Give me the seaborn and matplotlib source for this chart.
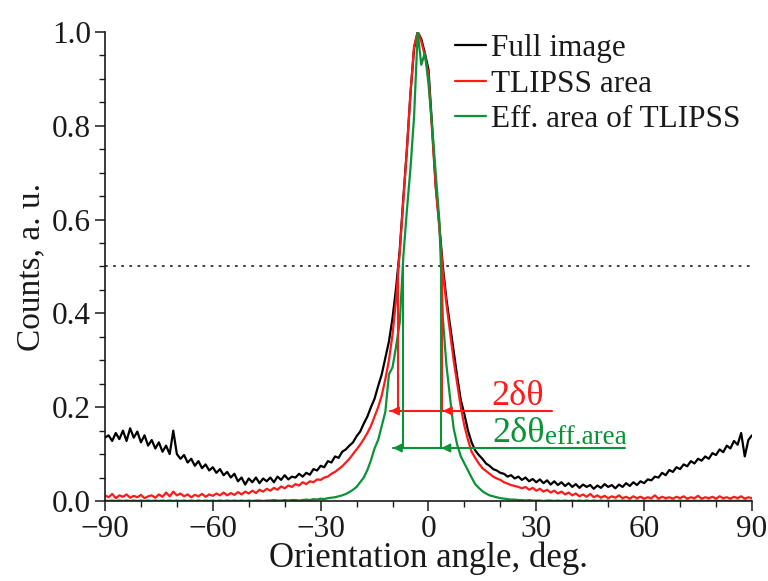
import matplotlib
matplotlib.use("Agg")
import matplotlib.pyplot as plt
from matplotlib.ticker import MultipleLocator, FormatStrFormatter
import numpy as np
import pandas as pd
import seaborn as sns

# ---------------- data ----------------
angles = list(range(-90, 91))  # orientation angle, deg

full_image = [
    0.135, 0.140, 0.128, 0.145, 0.132, 0.150, 0.128, 0.155, 0.135, 0.148,   # -90..-81
    0.125, 0.140, 0.118, 0.130, 0.112, 0.125, 0.105, 0.118, 0.100, 0.150,   # -80..-71
    0.100, 0.090, 0.098, 0.082, 0.090, 0.075, 0.085, 0.070, 0.078, 0.065,   # -70..-61
    0.072, 0.060, 0.068, 0.055, 0.062, 0.050, 0.058, 0.042, 0.050, 0.035,   # -60..-51
    0.048, 0.040, 0.050, 0.038, 0.048, 0.042, 0.050, 0.040, 0.052, 0.045,   # -50..-41
    0.055, 0.046, 0.052, 0.050, 0.058, 0.052, 0.060, 0.056, 0.068, 0.065,   # -40..-31
    0.075, 0.072, 0.085, 0.082, 0.095, 0.092, 0.105, 0.110, 0.118, 0.125,   # -30..-21
    0.138, 0.148, 0.165, 0.180, 0.200, 0.218, 0.245, 0.270, 0.305, 0.340,   # -20..-11
    0.390, 0.455, 0.535, 0.645, 0.750, 0.870, 0.965, 1.000, 0.985, 0.955,   # -10..-1
    0.920, 0.800, 0.675, 0.590, 0.500, 0.430, 0.375, 0.320, 0.265, 0.215,   # 0..9
    0.185, 0.150, 0.125, 0.108, 0.098, 0.090, 0.080, 0.075, 0.068, 0.065,   # 10..19
    0.060, 0.058, 0.052, 0.055, 0.048, 0.052, 0.045, 0.050, 0.042, 0.047,   # 20..29
    0.040, 0.046, 0.038, 0.044, 0.035, 0.042, 0.034, 0.040, 0.032, 0.038,   # 30..39
    0.030, 0.036, 0.028, 0.035, 0.030, 0.034, 0.026, 0.033, 0.028, 0.036,   # 40..49
    0.030, 0.034, 0.027, 0.035, 0.030, 0.038, 0.032, 0.040, 0.034, 0.042,   # 50..59
    0.038, 0.046, 0.044, 0.052, 0.050, 0.060, 0.055, 0.066, 0.062, 0.072,   # 60..69
    0.068, 0.078, 0.074, 0.085, 0.080, 0.090, 0.086, 0.095, 0.090, 0.102,   # 70..79
    0.098, 0.110, 0.104, 0.118, 0.112, 0.128, 0.120, 0.145, 0.095, 0.130,   # 80..89
    0.140,                                                                  # 90
]

tlipss_area = [
    0.012, 0.008, 0.015, 0.006, 0.012, 0.009, 0.014, 0.007, 0.011, 0.008,
    0.013, 0.006, 0.010, 0.012, 0.007, 0.014, 0.009, 0.018, 0.010, 0.020,
    0.012, 0.016, 0.010, 0.014, 0.008, 0.013, 0.010, 0.015, 0.009, 0.014,
    0.011, 0.016, 0.012, 0.018, 0.012, 0.017, 0.013, 0.019, 0.014, 0.020,
    0.016, 0.022, 0.017, 0.024, 0.020, 0.026, 0.022, 0.028, 0.024, 0.031,
    0.027, 0.033, 0.030, 0.036, 0.033, 0.040, 0.036, 0.042, 0.040, 0.046,
    0.045, 0.050, 0.052, 0.058, 0.062, 0.068, 0.074, 0.082, 0.090, 0.100,
    0.110, 0.120, 0.132, 0.145, 0.160, 0.180, 0.200, 0.225, 0.260, 0.300,
    0.355, 0.430, 0.530, 0.640, 0.750, 0.870, 0.970, 1.000, 0.980, 0.950,
    0.910, 0.790, 0.670, 0.585, 0.490, 0.420, 0.360, 0.300, 0.250, 0.200,
    0.160, 0.130, 0.105, 0.092, 0.080, 0.070, 0.064, 0.058, 0.052, 0.048,
    0.045, 0.040, 0.037, 0.034, 0.032, 0.030, 0.027, 0.030, 0.024, 0.028,
    0.022, 0.026, 0.020, 0.024, 0.018, 0.022, 0.016, 0.020, 0.014, 0.018,
    0.012, 0.016, 0.010, 0.014, 0.009, 0.015, 0.008, 0.012, 0.007, 0.011,
    0.006, 0.010, 0.007, 0.012, 0.006, 0.009, 0.005, 0.010, 0.006, 0.009,
    0.005, 0.008, 0.006, 0.012, 0.005, 0.009, 0.006, 0.008, 0.005, 0.009,
    0.006, 0.010, 0.005, 0.008, 0.006, 0.011, 0.005, 0.008, 0.006, 0.009,
    0.005, 0.010, 0.006, 0.008, 0.005, 0.009, 0.006, 0.010, 0.005, 0.008,
    0.006,
]

eff_area = [
    0.001, 0.000, 0.001, 0.000, 0.001, 0.000, 0.001, 0.000, 0.001, 0.000,
    0.001, 0.000, 0.001, 0.000, 0.001, 0.000, 0.001, 0.000, 0.001, 0.000,
    0.001, 0.000, 0.001, 0.000, 0.001, 0.000, 0.001, 0.000, 0.001, 0.000,
    0.001, 0.000, 0.001, 0.000, 0.001, 0.000, 0.001, 0.000, 0.001, 0.000,
    0.001, 0.000, 0.001, 0.001, 0.000, 0.001, 0.001, 0.002, 0.001, 0.001,
    0.002, 0.001, 0.002, 0.002, 0.001, 0.002, 0.003, 0.002, 0.004, 0.003,
    0.005, 0.004, 0.006, 0.007, 0.008, 0.010, 0.012, 0.015, 0.019, 0.024,
    0.030, 0.040, 0.050, 0.066, 0.087, 0.112, 0.130, 0.160, 0.190, 0.270,
    0.285, 0.330, 0.380, 0.520, 0.620, 0.710, 0.820, 1.000, 0.930, 0.955,
    0.890, 0.800, 0.700, 0.600, 0.390, 0.290, 0.220, 0.155, 0.120, 0.095,
    0.080, 0.065, 0.050, 0.036, 0.028, 0.021, 0.016, 0.012, 0.010, 0.008,
    0.006, 0.005, 0.004, 0.003, 0.003, 0.002, 0.002, 0.001, 0.002, 0.001,
    0.001, 0.001, 0.000, 0.001, 0.001, 0.000, 0.001, 0.000, 0.001, 0.000,
    0.001, 0.000, 0.001, 0.000, 0.001, 0.000, 0.001, 0.000, 0.001, 0.000,
    0.001, 0.000, 0.001, 0.000, 0.001, 0.000, 0.001, 0.000, 0.001, 0.000,
    0.001, 0.000, 0.001, 0.000, 0.001, 0.000, 0.001, 0.000, 0.001, 0.000,
    0.001, 0.000, 0.001, 0.000, 0.001, 0.000, 0.001, 0.000, 0.001, 0.000,
    0.001, 0.000, 0.001, 0.000, 0.001, 0.000, 0.001, 0.000, 0.001, 0.000,
    0.001,
]

series_labels = ["Full image", "TLIPSS area", "Eff. area of TLIPSS"]

# annotation values (half-maximum widths)
half_max = 0.5
fwhm_edges = [-8.4, 3.9]
fwhm_eff_edges = [-7.1, 3.5]
fwhm_bar_y = 0.192
fwhm_eff_bar_y = 0.113
fwhm_bar_span = [-10.7, 34.4]
fwhm_eff_bar_span = [-9.9, 54.7]

# ---------------- style ----------------
sns.set_theme(style="ticks")
plt.rcParams["font.family"] = ["Liberation Serif", "DejaVu Serif"]

BLACK = "#000000"
RED = "#ff1a1a"
GREEN = "#0a9236"
TXT = "#1a1a1a"

fig = plt.figure(figsize=(7.68, 5.81), dpi=100)
ax = fig.add_axes([0.1367, 0.1377, 0.8424, 0.8073])

df = pd.DataFrame({"angle": angles, "full": full_image,
                   "tlipss": tlipss_area, "eff": eff_area})

for col, color, lab in zip(["full", "tlipss", "eff"], [BLACK, RED, GREEN], series_labels):
    sns.lineplot(data=df, x="angle", y=col, ax=ax, color=color, lw=1.6,
                 label=lab, estimator=None, sort=False)

# dotted half-maximum line
ax.axhline(half_max, color="#333333", lw=1.3, ls=(0, (1.5, 3)), zorder=1)

# FWHM markers
def fwhm_marker(edges, bar_y, span, color):
    for e in edges:
        ax.plot([e, e], [bar_y, half_max], color=color, lw=1.5)
    ax.plot(span, [bar_y, bar_y], color=color, lw=1.5)
    head = 2.3
    for tip in (span[0], edges[1] + 0.1):
        ax.annotate("", xy=(tip, bar_y), xytext=(tip + head, bar_y),
                    arrowprops=dict(arrowstyle="-|>", color=color, lw=1.2,
                                    mutation_scale=13, shrinkA=0, shrinkB=0))

fwhm_marker(fwhm_edges, fwhm_bar_y, fwhm_bar_span, RED)
fwhm_marker(fwhm_eff_edges, fwhm_eff_bar_y, fwhm_eff_bar_span, GREEN)

ax.text(17.6, 0.205, "2δθ", color=RED, fontsize=26, va="baseline")
t2 = ax.text(17.7, 0.126, "2δθ", color=GREEN, fontsize=26, va="baseline")
ax.annotate("eff.area", xy=(1, 0), xycoords=t2, xytext=(0, 4),
            textcoords="offset points", color=GREEN, fontsize=19.5, va="baseline")

# axes
ax.set_xlim(-90, 90)
ax.set_ylim(0, 1.0)
ax.xaxis.set_major_locator(MultipleLocator(30))
ax.xaxis.set_minor_locator(MultipleLocator(10))
ax.yaxis.set_major_locator(MultipleLocator(0.2))
ax.yaxis.set_minor_locator(MultipleLocator(0.05))
ax.yaxis.set_major_formatter(FormatStrFormatter("%.1f"))
ax.tick_params(which="major", direction="out", length=7, width=1.1,
               labelsize=22.5, colors=TXT, pad=3)
ax.tick_params(which="minor", direction="out", length=4, width=1.0, colors=TXT)
sns.despine(ax=ax)
for s in ("left", "bottom"):
    ax.spines[s].set_linewidth(1.2)
    ax.spines[s].set_color(TXT)

ax.set_xlabel("Orientation angle, deg.", fontsize=25, color=TXT, labelpad=-2)
ax.set_ylabel("Counts, a. u.", fontsize=24, color=TXT, labelpad=4)

leg = ax.legend(loc="upper left", bbox_to_anchor=(0.541, 0.995), frameon=False,
                fontsize=22.5, handlelength=1.0, handletextpad=0.15,
                labelspacing=0.2, borderaxespad=0, borderpad=0)
for h in leg.get_lines():
    h.set_linewidth(1.6)
for txt in leg.get_texts():
    txt.set_color(TXT)

fig.savefig("out.png", dpi=100)
